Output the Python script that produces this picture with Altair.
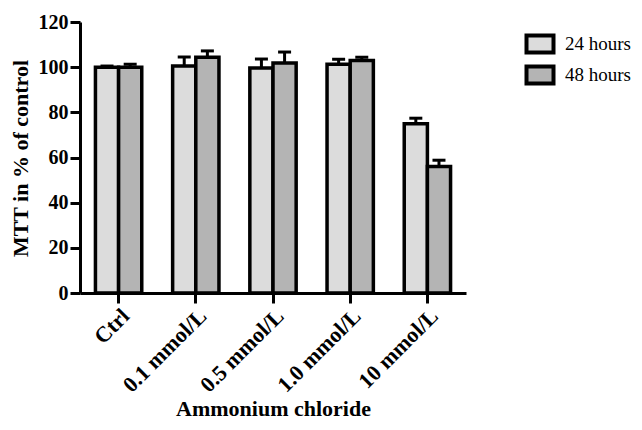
import altair as alt
import pandas as pd

categories = ["Ctrl", "0.1 mmol/L", "0.5 mmol/L", "1.0 mmol/L", "10 mmol/L"]
series = ["24 hours", "48 hours"]
values_24h = [100.0, 100.5, 99.6, 101.3, 74.9]
errors_24h = [0.5, 4.0, 4.0, 2.2, 2.5]
values_48h = [100.0, 104.4, 101.8, 102.9, 56.0]
errors_48h = [1.3, 2.8, 4.9, 1.5, 2.8]
y_ticks = [0, 20, 40, 60, 80, 100, 120]

rows = []
for i, c in enumerate(categories):
    rows.append({"cat": c, "series": series[0], "value": values_24h[i], "upper": values_24h[i] + errors_24h[i]})
    rows.append({"cat": c, "series": series[1], "value": values_48h[i], "upper": values_48h[i] + errors_48h[i]})
df = pd.DataFrame(rows)

FONT = "Liberation Serif"

x_enc = alt.X(
    "cat:N",
    sort=categories,
    scale=alt.Scale(paddingInner=0.4, paddingOuter=0.2),
    axis=alt.Axis(
        title="Ammonium chloride",
        labelAngle=-45,
        labelAlign="right",
        labelBaseline="top",
        labelPadding=2,
        labelFont=FONT,
        labelFontSize=22,
        labelFontWeight="bold",
        labelColor="black",
        titleFont=FONT,
        titleFontSize=22,
        titleFontWeight="bold",
        titleColor="black",
        titleX=193,
        titleY=122,
        titleBaseline="alphabetic",
        domainColor="black",
        domainWidth=3,
        tickColor="black",
        tickWidth=3,
        tickSize=10,
        grid=False,
    ),
)
xoff = alt.XOffset("series:N", sort=series, scale=alt.Scale(paddingInner=0, paddingOuter=0))
y_scale = alt.Scale(domain=[0, 120], nice=False)

y_enc = alt.Y(
    "value:Q",
    scale=y_scale,
    axis=alt.Axis(
        title="MTT in % of control",
        values=y_ticks,
        labelFont=FONT,
        labelFontSize=20,
        labelFontWeight="bold",
        labelColor="black",
        labelPadding=2,
        titleFont=FONT,
        titleFontSize=22,
        titleFontWeight="bold",
        titleColor="black",
        titleX=-53,
        titleY=136,
        titleBaseline="alphabetic",
        titleAngle=-90,
        domainColor="black",
        domainWidth=3,
        tickColor="black",
        tickWidth=3,
        tickSize=10,
        grid=False,
    ),
)

color = alt.Color(
    "series:N",
    sort=series,
    scale=alt.Scale(domain=series, range=["#dcdcdc", "#b4b4b4"]),
    legend=alt.Legend(
        title=None,
        orient="none",
        legendX=448,
        legendY=10,
        padding=0,
        symbolType="M-1.35,-0.85H1.35V0.85H-1.35Z",
        symbolSize=400,
        symbolStrokeColor="black",
        symbolStrokeWidth=4,
        symbolOpacity=1,
        labelFont=FONT,
        labelFontSize=19,
        labelFontWeight="normal",
        labelColor="black",
        labelOffset=13,
        rowPadding=-3,
    ),
)

err_rule = alt.Chart(df).mark_rule(color="black", strokeWidth=3).encode(
    x=x_enc, xOffset=xoff, y=alt.Y("value:Q", scale=y_scale), y2="upper:Q"
)
err_cap = alt.Chart(df).mark_tick(color="black", thickness=3, size=13, opacity=1).encode(
    x=x_enc, xOffset=xoff, y=alt.Y("upper:Q", scale=y_scale)
)
bars = alt.Chart(df).mark_bar(stroke="black", strokeWidth=3.5, opacity=1).encode(
    x=x_enc, xOffset=xoff, y=y_enc, color=color
)

chart = (
    alt.layer(err_rule, err_cap, bars)
    .properties(
        width=386,
        height=271,
        autosize=alt.AutoSizeParams(type="none"),
        padding={"left": 72, "top": 14, "right": 168, "bottom": 129},
    )
    .configure(background="white", font=FONT)
    .configure_view(stroke=None)
    .configure_legend(labelFont=FONT, labelFontSize=19, labelColor="black")
)

chart.save("out.html", embed_options={"renderer": "svg", "actions": False})
